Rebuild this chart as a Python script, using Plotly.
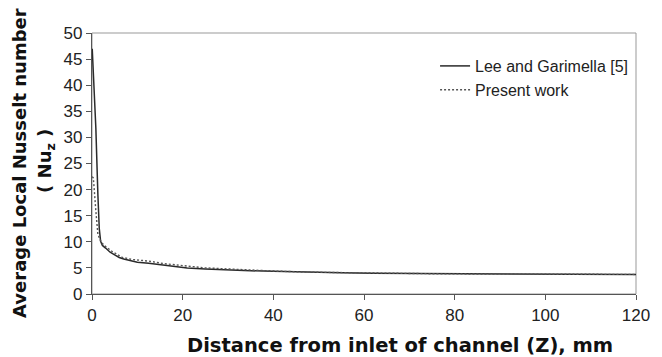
import plotly.graph_objects as go

# Lee and Garimella [5] (solid)
lee_x = [0.05, 0.3, 0.85, 1.3, 1.6, 1.9, 2.3, 3.0, 4.0, 5.0, 6.0, 7.0, 8.5, 10.0, 12.5, 15.0,
         18.0, 21.0, 25.0, 30.0, 35.0, 40.0, 48.0, 55.0, 62.0, 70.0, 77.0, 85.0, 92.0, 98.0,
         105.0, 112.0, 120.0]
lee_y = [47.0, 42.0, 31.8, 19.0, 12.6, 10.1, 9.3, 8.8, 8.0, 7.5, 7.0, 6.7, 6.4, 6.1, 5.9, 5.6,
         5.3, 5.0, 4.8, 4.6, 4.45, 4.35, 4.15, 4.05, 3.96, 3.92, 3.86, 3.84, 3.82, 3.78,
         3.77, 3.76, 3.75]

# Present work (dotted)
pw_x = [0.05, 0.3, 0.85, 1.3, 1.7, 2.0, 2.5, 3.0, 4.5, 6.7, 9.0, 12.5, 16.0, 21.0, 25.0, 30.0,
        35.0, 40.0, 48.0, 55.0, 62.0, 70.0, 77.0, 85.0, 92.0, 98.0, 105.0, 112.0, 120.0]
pw_y = [22.5, 22.2, 15.9, 11.4, 10.6, 10.0, 9.5, 9.1, 8.1, 7.0, 6.6, 6.3, 5.8, 5.4, 5.0, 4.8,
        4.55, 4.4, 4.18, 4.07, 3.97, 3.92, 3.86, 3.84, 3.82, 3.78, 3.77, 3.76, 3.75]

x_ticks = [0, 20, 40, 60, 80, 100, 120]
y_ticks = [0, 5, 10, 15, 20, 25, 30, 35, 40, 45, 50]

fig = go.Figure()
fig.add_trace(go.Scatter(x=lee_x, y=lee_y, mode="lines", name="Lee and Garimella [5]",
                         line=dict(color="#2a2a2a", width=1.5)))
fig.add_trace(go.Scatter(x=pw_x, y=pw_y, mode="lines", name="Present work",
                         line=dict(color="#555555", width=1.4, dash="2px,2px")))

axis_common = dict(showgrid=False, zeroline=False, ticks="outside", ticklen=5,
                   tickcolor="#555555", linecolor="#555555", linewidth=1.2,
                   tickfont=dict(family="Liberation Sans, Arial", size=17, color="#222222"))

fig.update_xaxes(range=[0, 120], tickvals=x_ticks, mirror=False, **axis_common)
fig.update_yaxes(range=[0, 50], tickvals=y_ticks, mirror=False, **axis_common)

# light border of plot area
fig.add_shape(type="rect", xref="paper", yref="paper", x0=0, y0=0, x1=1, y1=1,
              line=dict(color="#999999", width=1), layer="below")

title_font = "DejaVu Sans, Liberation Sans, Arial"
fig.add_annotation(text="<b>Average Local Nusselt number</b>", xref="paper", yref="paper",
                   x=(18 - 92) / 555, y=(294 - 162.5) / 261, textangle=-90, showarrow=False,
                   xanchor="center", yanchor="middle",
                   font=dict(family=title_font, size=18, color="#111111"))
fig.add_annotation(text="<b>( Nu<sub>z</sub> )</b>", xref="paper", yref="paper",
                   x=(45 - 92) / 555, y=(294 - 161) / 261, textangle=-90, showarrow=False,
                   xanchor="center", yanchor="middle",
                   font=dict(family=title_font, size=18, color="#111111"))
fig.add_annotation(text="<b>Distance from inlet of channel (Z), mm</b>", xref="paper", yref="paper",
                   x=(406.5 - 92) / 555, y=(294 - 345) / 261, showarrow=False,
                   xanchor="center", yanchor="middle",
                   font=dict(family=title_font, size=19.5, color="#111111"))

fig.update_layout(
    width=662, height=357,
    margin=dict(l=92, r=15, t=33, b=63),
    paper_bgcolor="white", plot_bgcolor="white",
    showlegend=True,
    legend=dict(x=(442 - 92) / 555, y=(294 - 49) / 261, xanchor="left", yanchor="top",
                bgcolor="rgba(0,0,0,0)", borderwidth=0, tracegroupgap=0,
                font=dict(family="Liberation Sans, Arial", size=16, color="#222222")),
)

fig.write_html("out.html")
